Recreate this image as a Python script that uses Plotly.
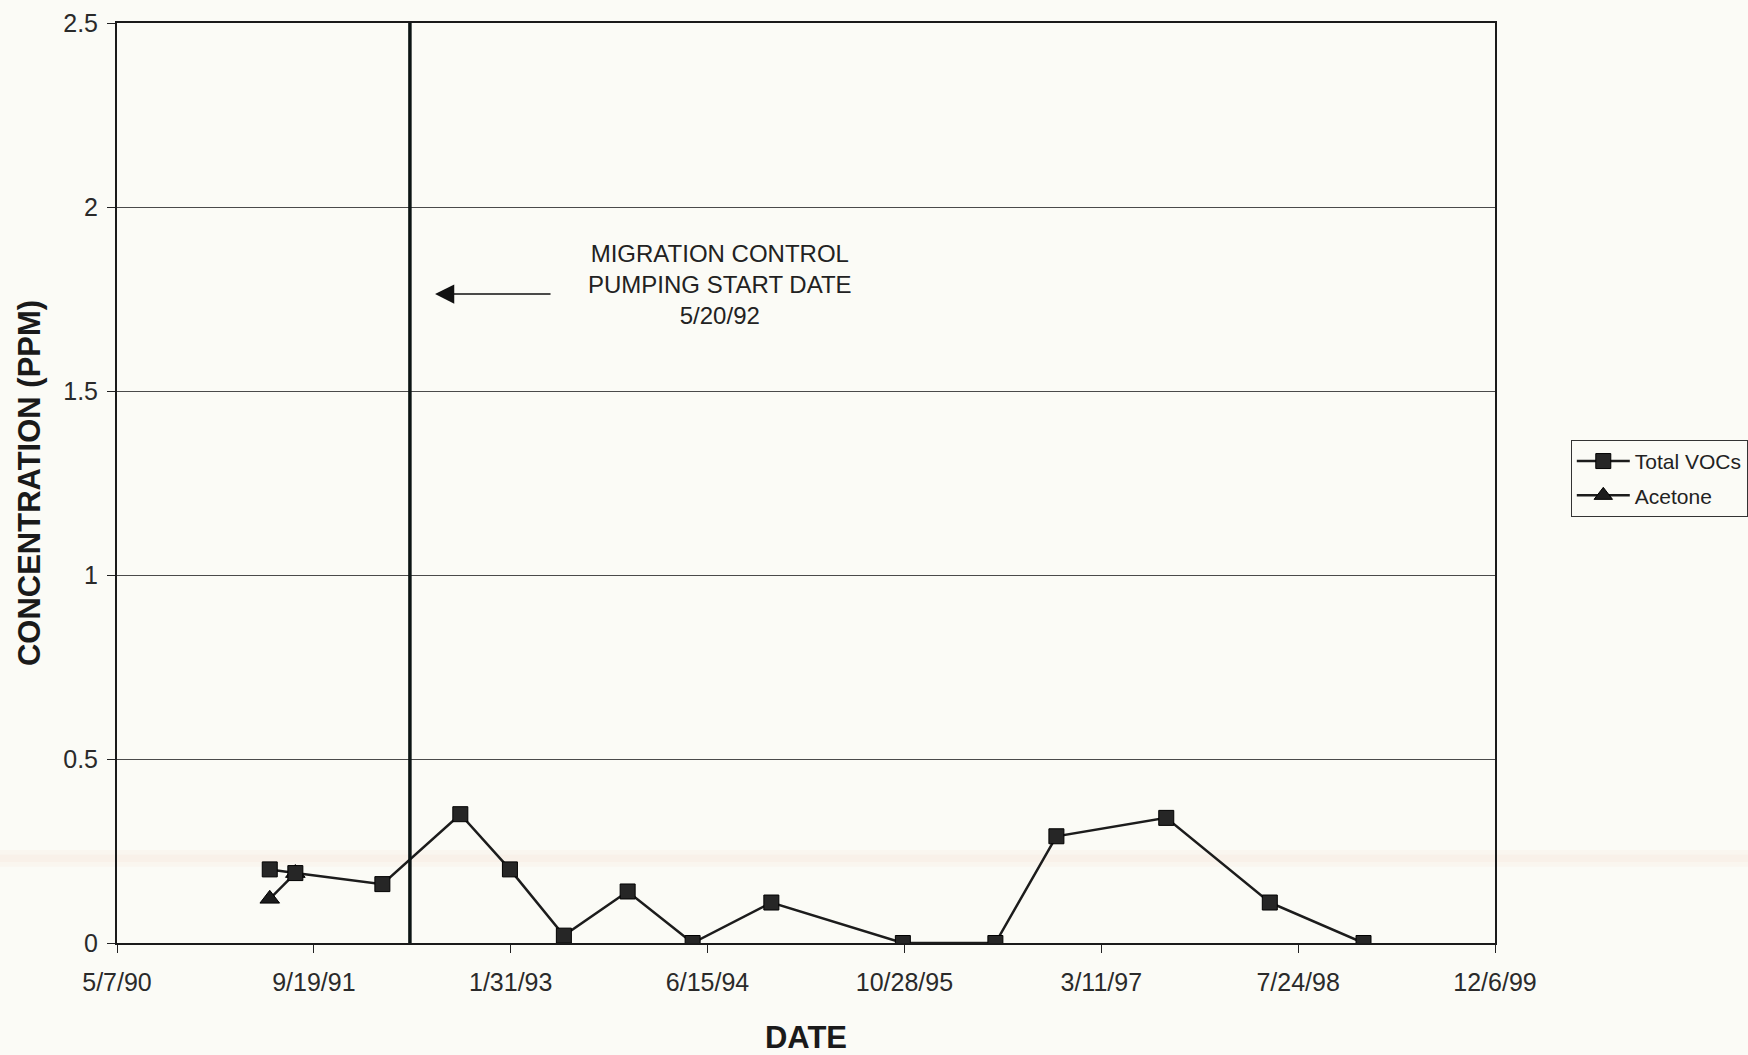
import plotly.graph_objects as go

# Sampling dates and measured concentrations (ppm)
voc_dates = [
    "1991-05-30", "1991-08-03", "1992-03-11", "1992-09-25", "1993-01-29",
    "1993-06-15", "1993-11-24", "1994-05-08", "1994-11-24", "1995-10-24",
    "1996-06-15", "1996-11-17", "1997-08-23", "1998-05-13", "1999-01-06",
]
voc_values = [0.20, 0.19, 0.16, 0.35, 0.20, 0.02, 0.14, 0.0, 0.11, 0.0,
              0.0, 0.29, 0.34, 0.11, 0.0]

acetone_dates = ["1991-05-30", "1991-08-03"]
acetone_values = [0.12, 0.19]

pumping_start = "1992-05-20"

x_tick_dates = ["1990-05-07", "1991-09-19", "1993-01-31", "1994-06-15",
                "1995-10-28", "1997-03-11", "1998-07-24", "1999-12-06"]
x_tick_labels = ["5/7/90", "9/19/91", "1/31/93", "6/15/94",
                 "10/28/95", "3/11/97", "7/24/98", "12/6/99"]

y_tick_values = [0, 0.5, 1, 1.5, 2, 2.5]
y_tick_labels = ["0", "0.5", "1", "1.5", "2", "2.5"]

FONT = "Liberation Sans, Arial, sans-serif"
INK = "#1c1c1c"
PAPER = "#fbfbf6"

fig = go.Figure()

fig.add_trace(go.Scatter(
    x=acetone_dates, y=acetone_values, name="Acetone",
    mode="lines+markers", legendrank=2, legendgroup="b",
    line=dict(color=INK, width=2.5),
    marker=dict(symbol="triangle-up", size=17, color=INK,
                line=dict(color="#000", width=1)),
))

fig.add_trace(go.Scatter(
    x=voc_dates, y=voc_values, name="Total VOCs",
    mode="lines+markers", legendrank=1, legendgroup="a",
    line=dict(color=INK, width=2.5),
    marker=dict(symbol="square", size=15, color="#262626",
                line=dict(color="#000", width=1)),
))

# Pumping start marker line
fig.add_shape(type="line", xref="x", yref="paper",
              x0=pumping_start, x1=pumping_start, y0=0, y1=1,
              line=dict(color="#0c1414", width=3.5), layer="above")

# Faint warm band across the sheet
fig.add_shape(type="rect", xref="paper", yref="paper",
              x0=-0.1, x1=1.2, y0=0.083, y1=0.101,
              fillcolor="rgba(245,205,175,0.09)", line=dict(width=0),
              layer="below")
fig.add_shape(type="rect", xref="paper", yref="paper",
              x0=-0.1, x1=1.2, y0=0.088, y1=0.096,
              fillcolor="rgba(240,190,165,0.08)", line=dict(width=0),
              layer="below")

fig.add_annotation(
    xref="paper", yref="paper", x=0.4376, y=0.716,
    xanchor="center", yanchor="middle",
    text="MIGRATION CONTROL<br>PUMPING START DATE<br>5/20/92",
    showarrow=False, align="center",
    font=dict(family=FONT, size=24, color="#222"),
)
fig.add_annotation(
    xref="paper", yref="paper", x=0.2308, y=0.7054,
    axref="pixel", ayref="pixel", ax=117, ay=0,
    text="", showarrow=True, arrowhead=2, arrowsize=2.4, arrowwidth=1.6,
    arrowcolor="#111",
)

fig.update_layout(
    width=1748, height=1055,
    margin=dict(l=117, r=253, t=23, b=112, autoexpand=False),
    paper_bgcolor=PAPER, plot_bgcolor="rgba(0,0,0,0)",
    font=dict(family=FONT, color="#222"),
    showlegend=True,
    legend=dict(
        x=1.055, xanchor="left", y=0.505, yanchor="middle",
        bgcolor=PAPER, bordercolor="#333", borderwidth=1,
        font=dict(family=FONT, size=21, color="#222"),
        traceorder="grouped", tracegroupgap=4, itemwidth=53,
    ),
)

fig.update_xaxes(
    type="date", range=["1990-05-07", "1999-12-06"],
    tickvals=x_tick_dates, ticktext=x_tick_labels,
    ticks="outside", ticklen=8, tickcolor="#222", tickwidth=1,
    tickfont=dict(family=FONT, size=25, color="#2a2a2a"),
    ticklabelstandoff=8, automargin=False,
    showgrid=False, zeroline=False,
    showline=True, linecolor="#1a1a1a", linewidth=2, mirror=True,
    title=dict(text="<b>DATE</b>", standoff=38,
               font=dict(family=FONT, size=31, color="#1a1a1a")),
)

fig.update_yaxes(
    range=[0, 2.5], tickvals=y_tick_values, ticktext=y_tick_labels,
    ticks="outside", ticklen=8, tickcolor="#222", tickwidth=1,
    tickfont=dict(family=FONT, size=25, color="#2a2a2a"),
    ticklabelstandoff=4, automargin=False,
    showgrid=True, gridcolor="#4a4a4a", gridwidth=1,
    zeroline=False,
    showline=True, linecolor="#1a1a1a", linewidth=2, mirror=True,
    title=dict(text="<b>CONCENTRATION (PPM)</b>", standoff=13,
               font=dict(family=FONT, size=31, color="#1a1a1a")),
)

fig.write_html("out.html")
